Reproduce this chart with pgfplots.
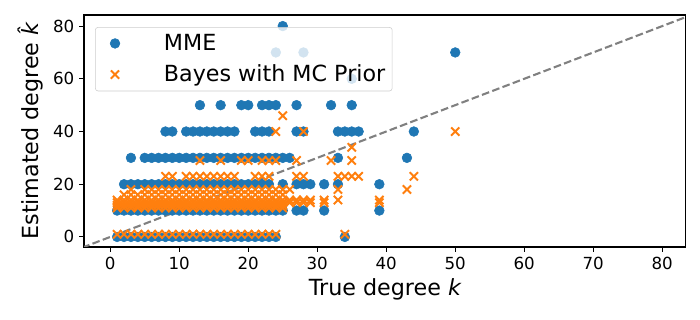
\documentclass[border=0pt]{standalone}
\usepackage{fontspec}
\setmainfont{DejaVu Sans}
\usepackage{pgfplots}
\pgfplotsset{compat=1.18}
\definecolor{mplblue}{HTML}{1F77B4}
\definecolor{mplorange}{HTML}{FF7F0E}
\begin{document}
\begin{tikzpicture}
\useasboundingbox (-60.5pt,-52.6pt) rectangle (443.5pt,177.8pt);
\begin{axis}[
    scale only axis,
    width=433.2pt, height=167pt,
    xmin=-3.8, xmax=83.4,
    ymin=-3.8, ymax=84.2,
    xtick={0,10,...,80}, ytick={0,20,...,80},
    xtick pos=bottom, ytick pos=left,
    tick align=outside,
    major tick length=3.5pt,
    every tick/.style={black, line width=0.8pt},
    axis line style={line width=0.8pt},
    tick label style={font=\fontsize{12}{14}\selectfont},
    /pgf/number format/assume math mode=true,
    label style={font=\fontsize{16}{19}\selectfont},
    xlabel={True degree {\itshape k}},
    ylabel={Estimated degree {\itshape k^^^^0302}},
    legend cell align=left,
    legend image code/.code={\path (-11pt,0pt) (5pt,0pt); \draw[#1, opacity=1] plot coordinates {(0pt,0pt)};},
    legend style={
        at={(0.0183,0.948)}, anchor=north west,
        font=\fontsize{16}{19}\selectfont,
        draw=black!20, rounded corners=2pt,
        fill=white, fill opacity=0.8, text opacity=1,
        inner xsep=3pt, inner ysep=3pt,
        row sep=5pt,
        /tikz/every odd column/.append style={column sep=28pt},
    },
]

% MME
\addplot[only marks, mark=*, mark size=3.5pt, color=mplblue, mark options={draw=none, fill=mplblue}]
coordinates {
(1,0)(2,0)(3,0)(4,0)(5,0)(6,0)(7,0)(8,0)(9,0)(10,0)(11,0)(12,0)(13,0)(14,0)(15,0)(16,0)(17,0)(18,0)(19,0)(20,0)(21,0)(22,0)(23,0)(24,0)(34,0)
(1,10)(2,10)(3,10)(4,10)(5,10)(6,10)(7,10)(8,10)(9,10)(10,10)(11,10)(12,10)(13,10)(14,10)(15,10)(16,10)(17,10)(18,10)(19,10)(20,10)(21,10)(22,10)(23,10)(24,10)(25,10)(27,10)(28,10)(31,10)(39,10)
(2,20)(3,20)(4,20)(5,20)(6,20)(7,20)(8,20)(9,20)(10,20)(11,20)(12,20)(13,20)(14,20)(15,20)(16,20)(17,20)(18,20)(19,20)(20,20)(21,20)(22,20)(23,20)(25,20)(27,20)(28,20)(29,20)(31,20)(33,20)(39,20)
(3,30)(5,30)(6,30)(7,30)(8,30)(9,30)(10,30)(11,30)(12,30)(13,30)(14,30)(15,30)(16,30)(17,30)(18,30)(19,30)(20,30)(21,30)(22,30)(23,30)(24,30)(25,30)(26,30)(33,30)(43,30)
(8,40)(9,40)(11,40)(12,40)(13,40)(14,40)(15,40)(16,40)(17,40)(18,40)(21,40)(22,40)(23,40)(27,40)(28,40)(33,40)(34,40)(35,40)(36,40)(44,40)
(13,50)(16,50)(19,50)(20,50)(22,50)(23,50)(24,50)(27,50)(32,50)(35,50)
(35,60)
(24,70)(28,70)(50,70)
(25,80)
};
\addlegendentry{MME}

% Bayes with MC Prior
\addplot[only marks, mark=x, mark size=4.2pt, color=mplorange, mark options={line width=1.4pt}]
coordinates {
(1,1)(2,1)(3,1)(4,1)(5,1)(6,1)(7,1)(8,1)(9,1)(10,1)(11,1)(12,1)(13,1)(14,1)(15,1)(16,1)(17,1)(18,1)(19,1)(20,1)(21,1)(22,1)(23,1)(24,1)(34,1)
(1,11)(2,11)(3,11)(4,11)(5,11)(6,11)(7,11)(8,11)(9,11)(10,11)(11,11)(12,11)(13,11)(14,11)(15,11)(16,11)(17,11)(18,11)(19,11)(20,11)(21,11)(22,11)(23,11)(24,11)(25,11)
(1,12)(2,12)(3,12)(4,12)(5,12)(6,12)(7,12)(8,12)(9,12)(10,12)(11,12)(12,12)(13,12)(14,12)(15,12)(16,12)(17,12)(18,12)(19,12)(20,12)(21,12)(22,12)(23,12)(24,12)(25,12)
(1,13)(2,13)(3,13)(4,13)(5,13)(6,13)(7,13)(8,13)(9,13)(10,13)(11,13)(12,13)(13,13)(14,13)(15,13)(16,13)(17,13)(18,13)(19,13)(20,13)(21,13)(22,13)(23,13)(24,13)(25,13)(26,13)(27,13)(28,13)(29,13)(31,13)(39,13)
(1,14)(2,14)(3,14)(4,14)(5,14)(6,14)(7,14)(8,14)(9,14)(10,14)(11,14)(12,14)(13,14)(14,14)(15,14)(16,14)(17,14)(18,14)(19,14)(20,14)(21,14)(22,14)(23,14)(24,14)(25,14)(26,14)(27,14)(28,14)(29,14)(31,14)(33,14)(39,14)
(2,16)(3,16)(4,16)(5,16)(6,16)(7,16)(8,16)(9,16)(10,16)(11,16)(12,16)(13,16)(14,16)(15,16)(16,16)(17,16)(18,16)(19,16)(20,16)(21,16)(22,16)(23,16)(24,16)(25,16)
(3,18)(5,18)(6,18)(7,18)(8,18)(9,18)(10,18)(11,18)(12,18)(13,18)(14,18)(15,18)(16,18)(17,18)(18,18)(19,18)(20,18)(21,18)(22,18)(23,18)(24,18)(25,18)(26,18)(33,18)(43,18)
(8,23)(9,23)(11,23)(12,23)(13,23)(14,23)(15,23)(16,23)(17,23)(18,23)(21,23)(22,23)(23,23)(27,23)(28,23)(33,23)(34,23)(35,23)(36,23)(44,23)
(13,29)(16,29)(19,29)(20,29)(22,29)(23,29)(24,29)(27,29)(32,29)(35,29)
(35,34)
(24,40)(28,40)(50,40)
(25,46)
};
\addlegendentry{Bayes with MC Prior}

% diagonal
\addplot[black!50, line width=1.5pt, dash pattern=on 5.5pt off 2.4pt, forget plot]
coordinates {(-10,-10) (90,90)};

\end{axis}
\end{tikzpicture}
\end{document}
